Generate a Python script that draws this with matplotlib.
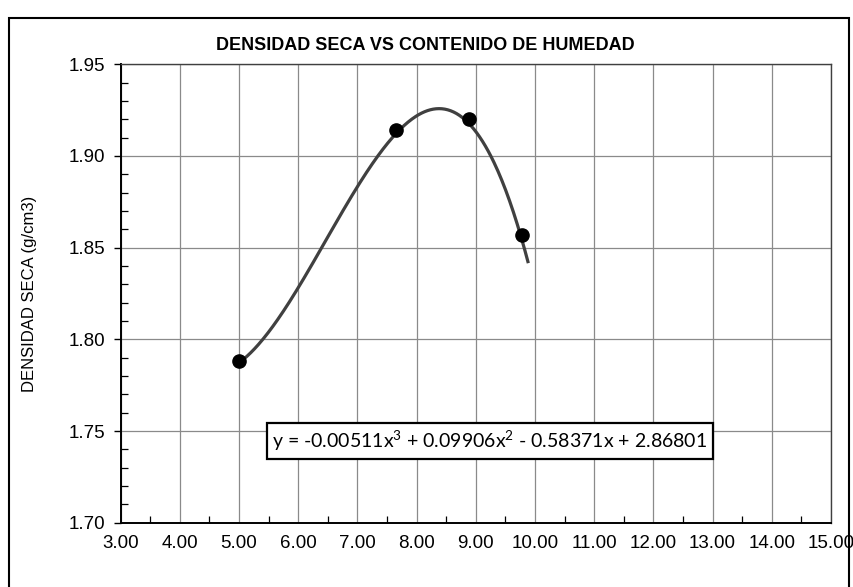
import numpy as np
import matplotlib
matplotlib.use("Agg")
import matplotlib.pyplot as plt
from matplotlib.patches import Rectangle
from matplotlib.ticker import MultipleLocator, FormatStrFormatter

# Compaction test: water content (%) vs dry density (g/cm3)
humedad = [5.00, 7.65, 8.89, 9.78]
densidad = [1.788, 1.914, 1.920, 1.857]

# Cubic trendline coefficients (highest power first)
coefs = [-0.00511, 0.09906, -0.58371, 2.86801]

titulo = "DENSIDAD SECA VS CONTENIDO DE HUMEDAD"
ylabel = "DENSIDAD SECA (g/cm3)"

sans = ["Liberation Sans", "DejaVu Sans"]

# superscripts in the equation use the same face as the text
plt.rcParams["mathtext.fontset"] = "custom"
plt.rcParams["mathtext.rm"] = "Lato"
plt.rcParams["mathtext.it"] = "Lato"

fig = plt.figure(figsize=(8.54, 5.87), dpi=100)
ax = fig.add_axes([0.1412, 0.1094, 0.9731 - 0.1412, 0.8905 - 0.1094])

# outer chart frame
fig.patches.append(Rectangle((9 / 854, -0.05), 840 / 854, 1.05 - 18 / 587,
                             transform=fig.transFigure, fill=False,
                             edgecolor="black", linewidth=1.5, clip_on=False))

# trendline drawn from the stated coefficients, a bit past the last point
xs = np.linspace(min(humedad), max(humedad) + 0.1, 300)
ax.plot(xs, np.polyval(coefs, xs), color="#404040", linewidth=2.3, zorder=3)
ax.plot(humedad, densidad, "o", color="black", markersize=9.5, zorder=4)

ax.set_xlim(3, 15)
ax.set_ylim(1.70, 1.95)
ax.xaxis.set_major_locator(MultipleLocator(1.0))
ax.xaxis.set_minor_locator(MultipleLocator(0.5))
ax.yaxis.set_major_locator(MultipleLocator(0.05))
ax.yaxis.set_minor_locator(MultipleLocator(0.01))
ax.xaxis.set_major_formatter(FormatStrFormatter("%.2f"))
ax.yaxis.set_major_formatter(FormatStrFormatter("%.2f"))

ax.grid(True, which="major", color="#8a8a8a", linewidth=0.9)
ax.set_axisbelow(True)

ax.tick_params(axis="x", which="major", length=0, pad=9, labelsize=13.5)
ax.tick_params(axis="x", which="minor", direction="in", length=5, width=0.9)
ax.tick_params(axis="y", which="major", direction="out", length=5, width=1.0,
               pad=6, labelsize=13.5)
ax.tick_params(axis="y", which="minor", direction="in", length=5, width=0.9)
for lbl in ax.get_xticklabels() + ax.get_yticklabels():
    lbl.set_family(sans)

for side in ["left", "bottom"]:
    ax.spines[side].set_color("black")
    ax.spines[side].set_linewidth(1.4)
for side in ["top", "right"]:
    ax.spines[side].set_color("#404040")
    ax.spines[side].set_linewidth(1.0)

ax.set_ylabel(ylabel, family=sans, fontsize=12)
ax.yaxis.set_label_coords(-0.118, 0.5)
fig.text(0.498, 1 - 45 / 587, titulo, ha="center", va="center",
         family=sans, fontweight="bold", fontsize=13)

# equation label built from the same coefficients
a, b, c, d = coefs
eq = (f"y = {a:.5f}x$^{{3}}$ + {b:.5f}x$^{{2}}$ "
      f"- {abs(c):.5f}x + {d:.5f}")
ax.text(9.24, 1.7446, eq, ha="center", va="center", fontsize=14,
        family=["Lato", "DejaVu Sans"],
        bbox=dict(boxstyle="square,pad=0.3", facecolor="white",
                  edgecolor="black", linewidth=1.6), zorder=5)

fig.savefig("out.png", dpi=100)
